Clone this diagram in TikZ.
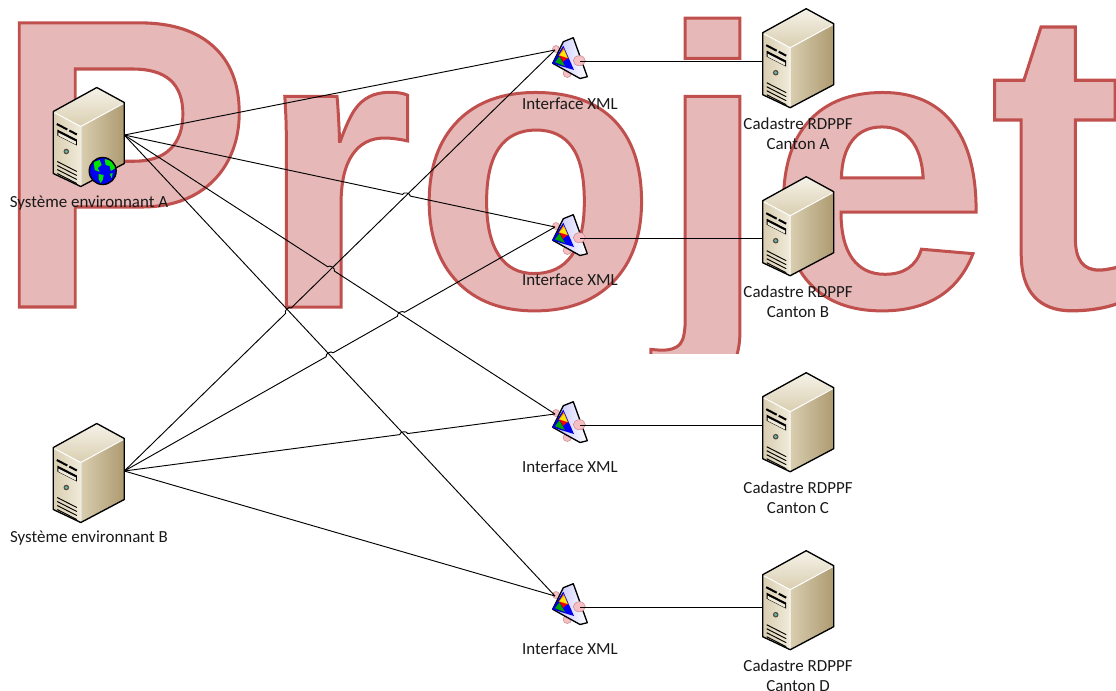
\documentclass[tikz,border=0pt]{standalone}
\usepackage{fontspec}
\usepackage{graphicx}
\setmainfont{Carlito}
\newfontfamily\wmfont[FakeBold=0.75]{Liberation Sans Bold}
\usetikzlibrary{calc}

\definecolor{wmfill}{HTML}{E6B8B7}
\definecolor{srvdark}{HTML}{AD9A70}
\definecolor{srvmid}{HTML}{D9CEB0}
\definecolor{srvlight}{HTML}{F0EADA}
\definecolor{ballfill}{HTML}{F6BFC4}
\definecolor{balledge}{HTML}{C98A90}

\newcommand{\hopover}[3]{-- ($(#1)!3pt!(#2)$) to[bend left=80] ($(#1)!3pt!(#3)$)}
\newcommand{\wmedge}{\special{pdf:code 0.753 0.314 0.302 RG}}

\tikzset{
  link/.style={draw=black,line width=0.7pt},
  lbl/.style={inner sep=0pt,align=center,font=\fontsize{12.7}{15}\selectfont,text=black!90},
  server/.pic={
    \fill[left color=srvmid,right color=srvlight] (0,0) -- (27.5,15) -- (27.5,75) -- (0,62) -- cycle;
    \fill[left color=srvmid,middle color=srvlight,right color=srvdark] (27.5,15) -- (71,-9) -- (71,52) -- (27.5,75) -- cycle;
    \fill[top color=srvlight!60!white,bottom color=srvmid] (0,0) -- (43.5,-24) -- (71,-9) -- (27.5,15) -- cycle;
    \draw[white,line width=0.8pt] (1,1) -- (27.5,15) -- (27.5,74) (27.5,15) -- (70,-8);
    \draw[line width=1pt,line join=round] (0,0) -- (43.5,-24) -- (71,-9) -- (71,52) -- (27.5,75) -- (0,62) -- cycle;
    \draw[line width=1.5pt] (3.5,12.5) -- (14,18) (16,19) -- (23.5,23);
    \fill[black] (4,18) -- (23.5,28) -- (23.5,34) -- (4,24) -- cycle;
    \fill[srvlight] (5,21) -- (22.5,30) -- (22.5,33) -- (5,24) -- cycle;
    \fill[srvdark!50!black] (13,40) circle (2.8);
    \fill[teal!60!white] (13,40) circle (1.7);
    \foreach \gy in {50,54,58,62} {
      \draw[line width=0.7pt] (4,\gy) -- (23.5,\gy+10);
    }
    \coordinate (-out) at (71,23.5);
    \coordinate (-in) at (0,29);
  },
  iface/.pic={
    \draw[balledge,fill=ballfill] (0,0) circle (3.5);
    \draw[balledge,fill=ballfill] (11.3,24.3) circle (4.2);
    \draw[left color=blue!25!white,right color=white,line width=1pt,line join=round]
      (7.3,-7.3) -- (17.3,-11.3) -- (31.3,27.7) -- (24,29.5) -- (-3.3,14.3) -- cycle;
    \fill[blue!85!black] (7.3,-3.3) -- (18,21) -- (-4,14.3) -- cycle;
    \fill[orange] (7.6,-1) -- (12.3,9.8) -- (2.6,6.8) -- cycle;
    \fill[yellow!90!orange] (8,1) -- (11.3,8.8) -- (3.6,6.2) -- cycle;
    \fill[red!95!black] (3.3,6.7) -- (11.3,9.3) -- (14,16) -- (7.3,13) -- cycle;
    \fill[green!65!black] (3.3,7.5) -- (9,17) -- (-1,13.3) -- cycle;
    \fill[blue] (11.3,9.3) -- (16.3,19.3) -- (10,17.7) -- (7.3,13) -- cycle;
    \draw[balledge,fill=ballfill] (23.3,11.7) ellipse (6 and 5);
    \coordinate (-in) at (-1,1);
    \coordinate (-out) at (24,12);
  },
  globe/.pic={
    \fill[blue!95!black] (0,0) circle (13.5);
    \begin{scope}
      \clip (0,0) circle (13.5);
      \fill[green!90!black] (-9,-9) -- (-3,-11) -- (-1,-6) -- (-5,-3) -- (-3,1) -- (-8,-1) -- cycle;
      \fill[green!90!black] (2,-12) -- (9,-10) -- (13,-3) -- (8,0) -- (7,-5) -- (3,-6) -- cycle;
      \fill[green!90!black] (-4,3) -- (1,4) -- (0,9) -- (-2,12) -- (-4,8) -- cycle;
      \fill[green!90!black] (7,3) -- (10,2) -- (9,7) -- cycle;
    \end{scope}
    \draw[line width=1pt] (0,0) circle (13.5);
  }
}

\begin{document}
\begin{tikzpicture}[x=0.75pt,y=-0.75pt]
  \useasboundingbox (0,0) rectangle (1116,690);

  % big word behind everything
  \begin{scope}
    \clip (0,0) rectangle (1116,353);
    \node[anchor=base west,inner sep=0pt] (word) at (-7,307)
      {\color{wmfill}\wmedge\wmfont\fontsize{299}{300}\selectfont\scalebox{0.975}[1.036]{\wmedge P}\kern4.5pt\wmedge roje\scalebox{1}[1.077]{\wmedge t}};
  \end{scope}

  \pic (sysA) at (53.3,111.5) {server};
  \pic (sysB) at (53.3,447.5) {server};
  \pic (cadA) at (762.7,32.7) {server};
  \pic (cadB) at (762.7,200.7) {server};
  \pic (cadC) at (762.7,396.7) {server};
  \pic (cadD) at (762.7,574.7) {server};

  \coordinate (i1) at (556,49);
  \coordinate (i2) at (556,226);
  \coordinate (i3) at (556,413);
  \coordinate (i4) at (556,595);
  \pic (ifA) at (i1) {iface};
  \pic (ifB) at (i2) {iface};
  \pic (ifC) at (i3) {iface};
  \pic (ifD) at (i4) {iface};
  \pic (earth) at (102.7,171) {globe};

  % crossings where a line hops over another
  \coordinate (xa) at (intersection cs: first line={(sysA-out)--(ifB-in)}, second line={(sysB-out)--(ifA-in)});
  \coordinate (xb) at (intersection cs: first line={(sysA-out)--(ifC-in)}, second line={(sysB-out)--(ifA-in)});
  \coordinate (xc) at (intersection cs: first line={(sysB-out)--(ifA-in)}, second line={(sysA-out)--(ifD-in)});
  \coordinate (xd) at (intersection cs: first line={(sysB-out)--(ifB-in)}, second line={(sysA-out)--(ifD-in)});
  \coordinate (xe) at (intersection cs: first line={(sysB-out)--(ifB-in)}, second line={(sysA-out)--(ifC-in)});
  \coordinate (xf) at (intersection cs: first line={(sysB-out)--(ifC-in)}, second line={(sysA-out)--(ifD-in)});

  \draw[link] (sysA-out) -- (ifA-in);
  \draw[link] (sysA-out) \hopover{xa}{sysA-out}{ifB-in} -- (ifB-in);
  \draw[link] (sysA-out) \hopover{xb}{sysA-out}{ifC-in} -- (ifC-in);
  \draw[link] (sysA-out) -- (ifD-in);
  \draw[link] (sysB-out) \hopover{xc}{sysB-out}{ifA-in} -- (ifA-in);
  \draw[link] (sysB-out) \hopover{xd}{sysB-out}{ifB-in} \hopover{xe}{sysB-out}{ifB-in} -- (ifB-in);
  \draw[link] (sysB-out) \hopover{xf}{sysB-out}{ifC-in} -- (ifC-in);
  \draw[link] (sysB-out) -- (ifD-in);

  \draw[link] (ifA-out) -- (ifA-out -| cadA-in);
  \draw[link] (ifB-out) -- (ifB-out -| cadB-in);
  \draw[link] (ifC-out) -- (ifC-out -| cadC-in);
  \draw[link] (ifD-out) -- (ifD-out -| cadD-in);

  \node[lbl] (lsysA) at (89,203) {Système environnant A};
  \node[lbl] (lsysB) at (89,538) {Système environnant B};
  \node[lbl] (lifA) at (570,103.5) {Interface XML};
  \node[lbl] (lifB) at (570,279.5) {Interface XML};
  \node[lbl] (lifC) at (570,466.5) {Interface XML};
  \node[lbl] (lifD) at (570,648.5) {Interface XML};
  \node[lbl] (lcadA) at (798,133.5) {Cadastre RDPPF\\Canton A};
  \node[lbl] (lcadB) at (798,301.5) {Cadastre RDPPF\\Canton B};
  \node[lbl] (lcadC) at (798,497.5) {Cadastre RDPPF\\Canton C};
  \node[lbl] (lcadD) at (798,675.5) {Cadastre RDPPF\\Canton D};
\end{tikzpicture}
\end{document}
